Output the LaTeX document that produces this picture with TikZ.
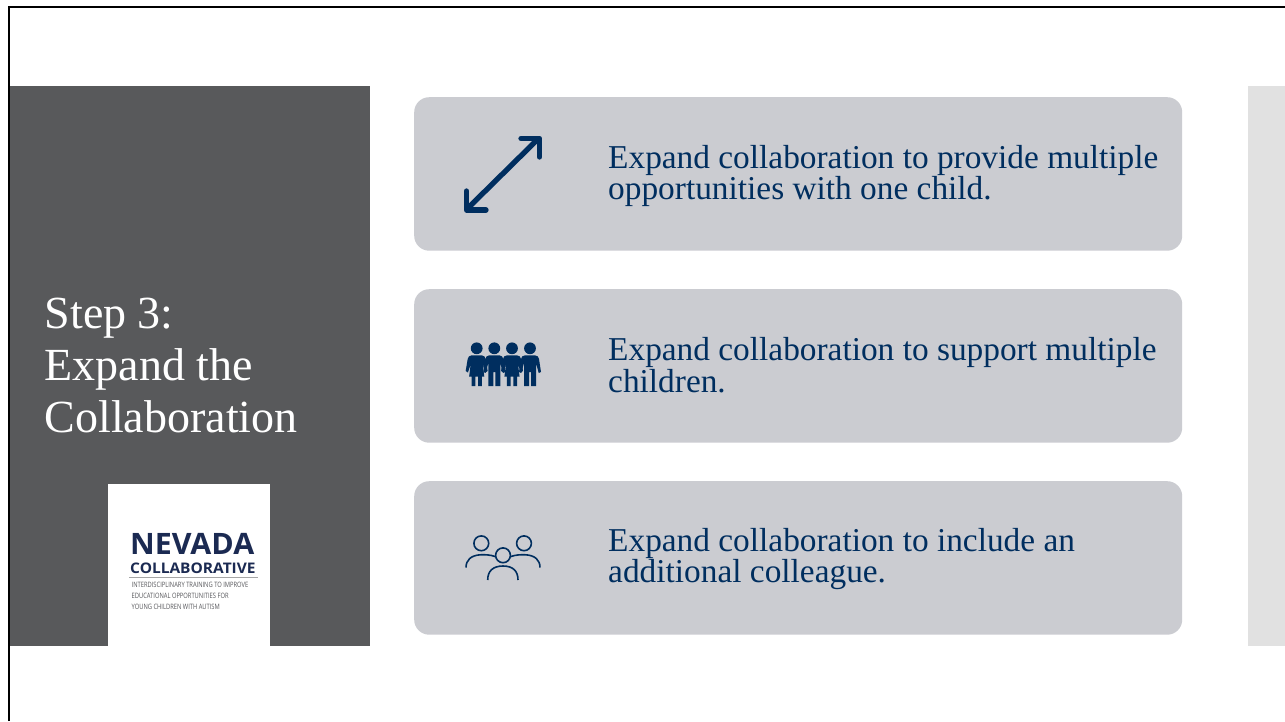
\documentclass[tikz,border=0pt]{standalone}
\usepackage{fontspec}
\setmainfont{Liberation Serif}
\newfontfamily\logofont{Open Sans}
\setlength{\normallineskiplimit}{-100pt}
\setlength{\lineskiplimit}{-100pt}
\definecolor{paneldark}{HTML}{58595B}
\definecolor{panellight}{HTML}{E1E1E1}
\definecolor{cardgrey}{HTML}{CBCCD1}
\definecolor{navy}{HTML}{002E5F}
\definecolor{logoblue}{HTML}{1B2A52}
\definecolor{logogrey}{HTML}{55565A}
\tikzset{
  px/.style={x=1pt,y=-1pt},
  card/.style={fill=cardgrey,rounded corners=15pt,minimum width=768pt,minimum height=153.5pt,inner sep=0pt,anchor=north west},
  cardtext/.style={anchor=west,align=left,text=navy,inner sep=0pt,font=\fontsize{33.35}{31.7}\selectfont},
  headtext/.style={anchor=west,align=left,text=white,inner sep=0pt,font=\fontsize{46}{52}\selectfont},
  arrowicon/.style={draw=navy,line width=5.3pt,line cap=round,line join=round},
  outlineicon/.style={draw=navy,line width=1.6pt,line cap=butt},
  solidicon/.style={fill=navy,draw=none},
  logotext/.style={inner sep=0pt,anchor=west}
}
\newcommand{\persondress}[1]{%
  \fill[solidicon,shift={(#1,0)}] (0,348.3) circle[radius=5.9];
  \fill[solidicon,shift={(#1,0)}] (-5,355.3) -- (5,355.3) .. controls (7.5,355.3) and (8.5,357) .. (9,359) -- (11,371) -- (8.7,372.5) -- (6,364) -- (7.6,376.7) -- (5.2,376.7) -- (5.2,386) -- (1.3,386) -- (1.3,376.7) -- (-1.3,376.7) -- (-1.3,386) -- (-5.2,386) -- (-5.2,376.7) -- (-7.6,376.7) -- (-6,364) -- (-8.7,372.5) -- (-11,371) -- (-9,359) .. controls (-8.5,357) and (-7.5,355.3) .. (-5,355.3) -- cycle;
}
\newcommand{\personsuit}[1]{%
  \fill[solidicon,shift={(#1,0)}] (0,348.3) circle[radius=5.9];
  \fill[solidicon,shift={(#1,0)}] (-5,355.3) -- (5,355.3) .. controls (7.5,355.3) and (8.5,357) .. (9,359) -- (11,372) -- (8.7,373) -- (6,363) -- (6,386) -- (1,386) -- (1,372) -- (-1,372) -- (-1,386) -- (-6,386) -- (-6,363) -- (-8.7,373) -- (-11,372) -- (-9,359) .. controls (-8.5,357) and (-7.5,355.3) .. (-5,355.3) -- cycle;
}
\begin{document}
\begin{tikzpicture}[px]
\useasboundingbox (0,0) rectangle (1285,721);
\fill[white] (0,0) rectangle (1285,721);
% panels
\fill[paneldark] (10,86) rectangle (370,646);
\fill[panellight] (1248,86) rectangle (1285,646);
% frame
\draw[black,line width=2.5pt] (9.2,721) -- (9.2,7.2) -- (1285,7.2);
% heading
\node[headtext] (head) at (44.5,365.5) {Step 3:\\Expand the\\Collaboration};
% logo
\fill[white] (108,484) rectangle (270,646);
\node[logotext,text=logoblue] (logoa) at (130,544) {\logofont\bfseries\scalebox{1.03}[1]{\fontsize{29.5}{30}\selectfont NEVADA}};
\node[logotext,text=logoblue] (logob) at (130,568) {\logofont\bfseries\scalebox{1.06}[1]{\fontsize{14.6}{15}\selectfont COLLABORATIVE}};
\fill[gray!70] (129,577.4) rectangle (258,578.2);
\node[logotext,text=logogrey] (logoc) at (131.5,585) {\logofont\scalebox{0.78}[1]{\fontsize{7.4}{8}\selectfont INTERDISCIPLINARY TRAINING TO IMPROVE}};
\node[logotext,text=logogrey] (logod) at (131.5,596) {\logofont\scalebox{0.78}[1]{\fontsize{7.4}{8}\selectfont EDUCATIONAL OPPORTUNITIES FOR}};
\node[logotext,text=logogrey] (logoe) at (131.5,606.5) {\logofont\scalebox{0.78}[1]{\fontsize{7.4}{8}\selectfont YOUNG CHILDREN WITH AUTISM}};
% cards
\node[card] (c1) at (414,97) {};
\node[card] (c2) at (414,289) {};
\node[card] (c3) at (414,481) {};
\node[cardtext] (t1) at (608,176) {Expand collaboration to provide multiple\\opportunities with one child.};
\node[cardtext] (t2) at (608,365) {Expand collaboration to support multiple\\children.};
\node[cardtext] (t3) at (608,559) {Expand collaboration to include an\\additional colleague.};
% arrow icon
\draw[arrowicon] (468,208) -- (538,139);
\draw[arrowicon] (521,138.5) -- (539.5,138.5) -- (539.5,157);
\draw[arrowicon] (466.5,191) -- (466.5,210) -- (486,210);
% four people icon
\persondress{476.7}
\personsuit{494.3}
\persondress{512}
\personsuit{530}
% group icon
\draw[outlineicon] (481.3,543.3) circle[radius=7.4];
\draw[outlineicon] (524,543.3) circle[radius=7.4];
\draw[outlineicon] (503,555.3) circle[radius=7.4];
\draw[outlineicon] (466,567.5) .. controls (466,560) and (471,555.5) .. (480,554.8) .. controls (486,554.5) and (491,555) .. (495,556.5);
\draw[outlineicon] (540,567.5) .. controls (540,560) and (535,555.5) .. (526,554.8) .. controls (520,554.5) and (515,555) .. (511,556.5);
\draw[outlineicon] (487.7,580) .. controls (487.7,571) and (493,566) .. (503,566) .. controls (513,566) and (518,571) .. (518,580);
\end{tikzpicture}
\end{document}
